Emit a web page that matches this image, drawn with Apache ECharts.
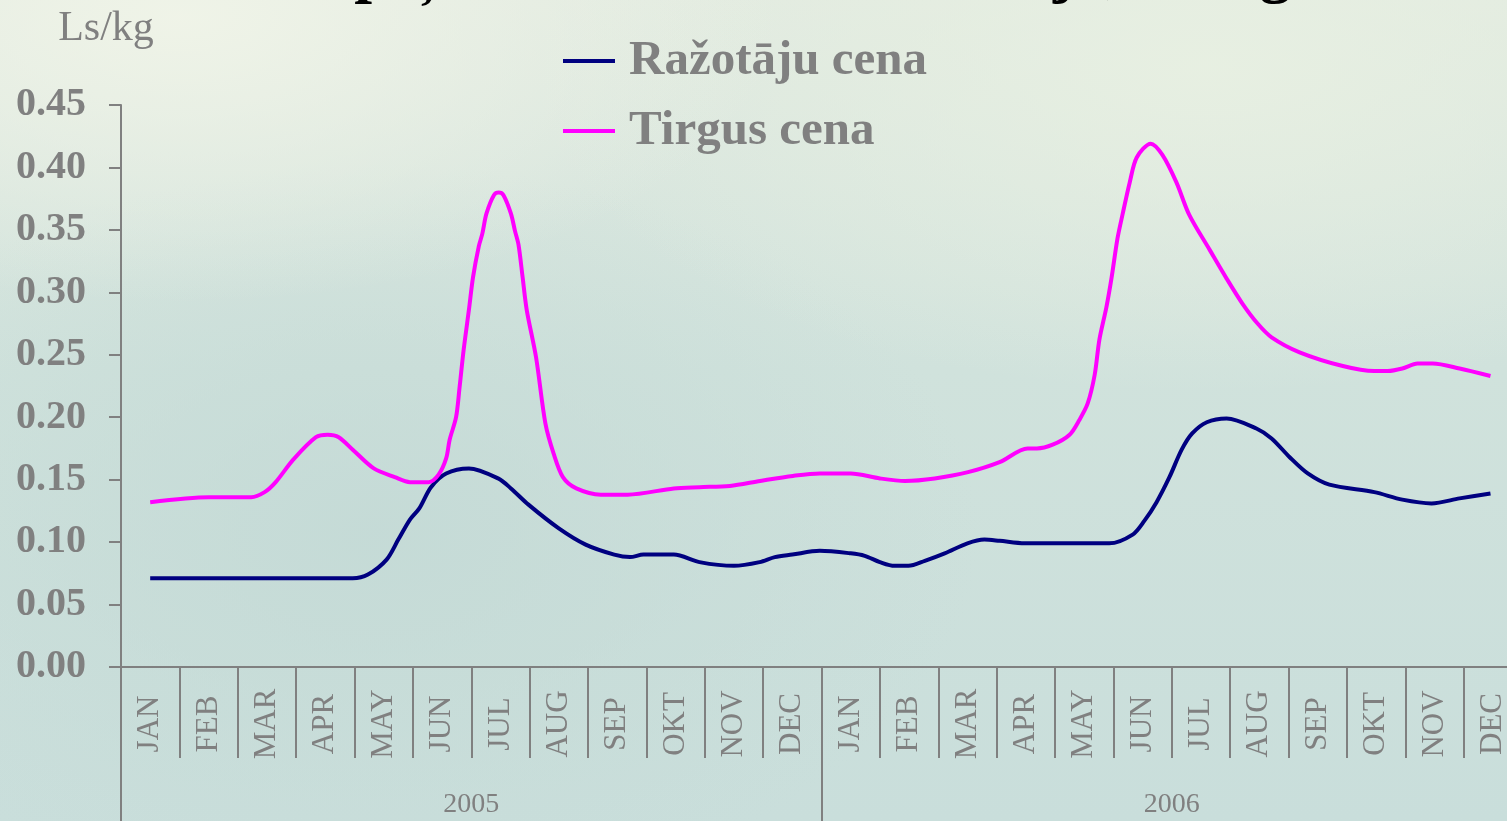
<!DOCTYPE html>
<html>
<head>
<meta charset="utf-8">
<script src="https://cdn.jsdelivr.net/npm/echarts@6/dist/echarts.min.js"></script>
<style>
html,body{margin:0;padding:0;width:1507px;height:821px;overflow:hidden;}
body{
 background:
  radial-gradient(ellipse 40% 35% at 12% 2%, rgba(240,244,232,0.95) 0%, rgba(240,244,232,0) 100%),
  radial-gradient(ellipse 45% 40% at 80% 8%, rgba(232,240,226,0.9) 0%, rgba(232,240,226,0) 100%),
  radial-gradient(ellipse 40% 45% at 25% 65%, rgba(196,218,214,0.9) 0%, rgba(196,218,214,0) 100%),
  linear-gradient(180deg, #e1eae0 0%, #d0e2dc 45%, #c9dedb 100%);
}
#chart{width:1530px;height:821px;}
</style>
</head>
<body>
<div id="chart"></div>
<script>
// ---- data ----
var months = ['JAN','FEB','MAR','APR','MAY','JUN','JUL','AUG','SEP','OKT','NOV','DEC',
              'JAN','FEB','MAR','APR','MAY','JUN','JUL','AUG','SEP','OKT','NOV','DEC'];
var years = ['2005','2006'];
var yTicks = [0, 0.05, 0.10, 0.15, 0.20, 0.25, 0.30, 0.35, 0.40, 0.45];
var seriesNames = ['Ražotāju cena', 'Tirgus cena'];
// [month position (0 = JAN 2005), Ls/kg]
var razotajuCena = [
 [0,0.071],[1,0.071],[2,0.071],[3,0.071],[3.47,0.071],[3.73,0.074],[4.05,0.086],[4.25,0.102],
 [4.45,0.118],[4.61,0.127],[4.81,0.144],[5.07,0.155],[5.46,0.159],[5.96,0.151],[6.18,0.143],
 [6.48,0.130],[7.00,0.111],[7.46,0.098],[7.95,0.090],[8.22,0.088],[8.45,0.090],[8.97,0.090],
 [9.41,0.084],[10.0,0.081],[10.44,0.084],[10.7,0.088],[11.0,0.090],[11.47,0.093],[12.0,0.091],
 [12.24,0.089],[12.5,0.084],[12.75,0.081],[12.99,0.081],[13.27,0.085],[13.61,0.091],[14.0,0.099],
 [14.29,0.102],[14.55,0.101],[14.98,0.099],[15.96,0.099],[16.43,0.099],[16.83,0.106],[17.03,0.117],
 [17.24,0.132],[17.46,0.152],[17.67,0.174],[17.85,0.187],[18.10,0.196],[18.44,0.199],[18.95,0.191],
 [19.21,0.183],[19.52,0.168],[19.83,0.155],[20.20,0.146],[20.97,0.140],[21.45,0.134],[21.95,0.131],
 [22.43,0.135],[22.96,0.139]
];
var tirgusCena = [
 [0,0.132],[1.01,0.136],[1.73,0.136],[1.96,0.140],[2.15,0.148],[2.45,0.166],[2.84,0.184],[3.04,0.186],
 [3.23,0.184],[3.47,0.174],[3.83,0.159],[4.19,0.152],[4.45,0.148],[4.77,0.148],[4.94,0.154],[5.07,0.167],
 [5.13,0.182],[5.24,0.200],[5.30,0.224],[5.37,0.254],[5.46,0.286],[5.53,0.312],[5.63,0.337],[5.69,0.347],
 [5.76,0.363],[5.89,0.378],[5.97,0.380],[6.05,0.378],[6.18,0.363],[6.25,0.349],[6.31,0.338],[6.38,0.312],
 [6.45,0.286],[6.61,0.248],[6.77,0.195],[6.91,0.171],[7.07,0.152],[7.30,0.143],[7.72,0.138],[8.18,0.138],
 [8.97,0.143],[9.41,0.144],[9.93,0.145],[10.45,0.149],[11.01,0.153],[11.47,0.155],[12.0,0.155],
 [12.5,0.151],[12.93,0.149],[13.44,0.151],[14.01,0.156],[14.55,0.164],[15.03,0.175],[15.19,0.175],
 [15.46,0.178],[15.75,0.186],[15.92,0.198],[16.06,0.211],[16.18,0.234],[16.26,0.262],[16.38,0.288],
 [16.47,0.312],[16.57,0.343],[16.66,0.363],[16.78,0.388],[16.90,0.408],[17.14,0.419],[17.34,0.410],
 [17.58,0.388],[17.80,0.362],[18.15,0.334],[18.44,0.311],[18.71,0.291],[18.97,0.275],[19.21,0.264],
 [19.69,0.252],[20.43,0.241],[20.97,0.237],[21.20,0.237],[21.45,0.239],[21.71,0.243],[21.97,0.243],
 [22.43,0.239],[22.96,0.233]
];
var titleText = 'Kartupeļu cenu dinamika Latvijā, Ls/kg';
var unitText = 'Ls/kg';

// ---- chart ----
var GRAY = '#808080';
var SERIF = 'Liberation Serif';

// fit the (mostly cropped) title so its descenders land where the reference shows them
var mctx = document.createElement('canvas').getContext('2d');
function tw(s, size){ mctx.font = 'bold ' + size + 'px "' + SERIF + '"'; return mctx.measureText(s).width; }
var pIdx = titleText.indexOf('p'), jIdx = titleText.indexOf('j', titleText.indexOf('Latv'));
function centerOf(idx, size){ return tw(titleText.slice(0, idx), size) + tw(titleText[idx], size) / 2; }
var baseSize = 66;
var span = centerOf(jIdx, baseSize) - centerOf(pIdx, baseSize);
var titleSize = Math.round(baseSize * (1067 - 372) / span);
var titleX = 372 - centerOf(pIdx, titleSize);
var titleY = -5 - 0.34 * titleSize;

var chart = echarts.init(document.getElementById('chart'), null, {renderer:'canvas'});
chart.setOption({
  backgroundColor: 'transparent',
  animation: false,
  grid: {left:121, top:105, width:1401, bottom:154, containLabel:false},
  graphic: [
    {type:'text', x:titleX, y:titleY, z:10,
     style:{text:titleText, fill:'#000', align:'left', verticalAlign:'middle',
            fontSize:titleSize, fontWeight:'bold', fontFamily:SERIF}},
    {type:'text', x:106, y:29, z:10,
     style:{text:unitText, fill:GRAY, align:'center', verticalAlign:'middle',
            fontSize:42, fontFamily:SERIF}}
  ],
  legend: {
    orient:'vertical', left:563, top:36, padding:0, itemWidth:52, itemHeight:4, itemGap:20,
    icon:'rect', data: seriesNames,
    textStyle:{color:GRAY, fontSize:49, fontWeight:'bold', fontFamily:SERIF, lineHeight:50,
               padding:[0,0,0,9]}
  },
  xAxis: [
    {type:'category', data:months, position:'bottom', boundaryGap:true,
     axisLine:{show:true, onZero:false, lineStyle:{color:GRAY, width:2}},
     axisTick:{show:true, interval:0, length:91, lineStyle:{color:GRAY, width:2}},
     axisLabel:{interval:0, rotate:90, align:'center', verticalAlign:'middle', margin:57,
                color:GRAY, fontSize:31, fontFamily:SERIF},
     splitLine:{show:false}},
    {type:'category', data:years, position:'bottom', boundaryGap:true,
     axisLine:{show:false, onZero:false},
     axisTick:{show:true, interval:0, length:220, lineStyle:{color:GRAY, width:2}},
     axisLabel:{interval:0, margin:124, color:GRAY, fontSize:28, fontFamily:SERIF},
     splitLine:{show:false}},
    {type:'value', min:-0.5, max:23.5, show:false, splitLine:{show:false}}
  ],
  yAxis: {
    type:'value', min:0, max:0.45, interval:0.05, position:'left',
    axisLine:{show:true, onZero:false, lineStyle:{color:GRAY, width:2}},
    axisTick:{show:true, length:12, lineStyle:{color:GRAY, width:2}},
    axisLabel:{margin:35, color:GRAY, fontSize:40, fontWeight:'bold', fontFamily:SERIF,
               formatter:function(v){ return v.toFixed(2); }},
    splitLine:{show:false}
  },
  series: [
    {name:seriesNames[0], type:'line', xAxisIndex:2, data:razotajuCena, showSymbol:false,
     smooth:0.3, color:'#000080', lineStyle:{color:'#000080', width:4}},
    {name:seriesNames[1], type:'line', xAxisIndex:2, data:tirgusCena, showSymbol:false,
     smooth:0.3, color:'#ff00ff', lineStyle:{color:'#ff00ff', width:4}}
  ]
});
</script>
</body>
</html>
